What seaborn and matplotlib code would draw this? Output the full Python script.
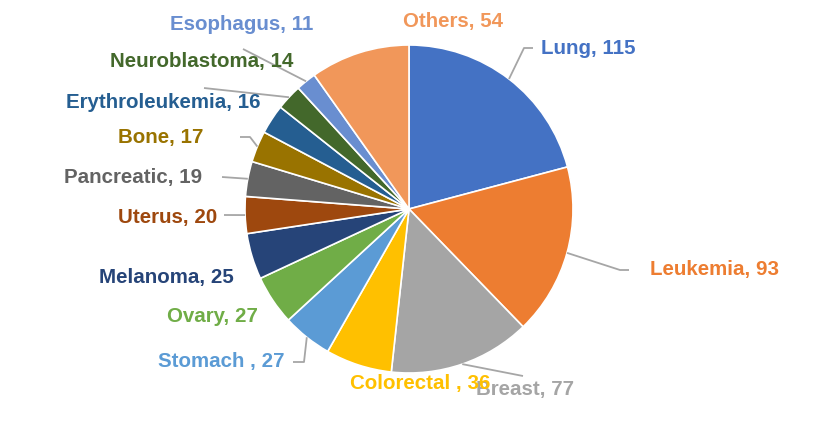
import matplotlib.pyplot as plt
import numpy as np
import seaborn as sns

W, H = 818, 421

# Slices, clockwise from 12 o'clock.
cancers = [
    "Lung", "Leukemia", "Breast", "Colorectal ", "Stomach ", "Ovary",
    "Melanoma", "Uterus", "Pancreatic", "Bone", "Erythroleukemia",
    "Neuroblastoma", "Esophagus", "Others",
]
counts = [115, 93, 77, 36, 27, 27, 25, 20, 19, 17, 16, 14, 11, 54]
colors = [
    "#4472C4", "#ED7D31", "#A5A5A5", "#FFC000", "#5B9BD5", "#70AD47",
    "#264478", "#9E480E", "#636363", "#997300", "#255E91", "#43682B",
    "#698ED0", "#F1975A",
]

# Label layout in pixel coords (left edge, vertical centre).
label_pos = {
    "Lung": (541, 48), "Leukemia": (650, 270), "Breast": (476, 390),
    "Colorectal ": (350, 383), "Stomach ": (158, 362), "Ovary": (167, 316),
    "Melanoma": (99, 277), "Uterus": (118, 217), "Pancreatic": (64, 178),
    "Bone": (118, 138), "Erythroleukemia": (66, 102),
    "Neuroblastoma": (110, 62), "Esophagus": (170, 25), "Others": (403, 22),
}
# Leader line points after the slice edge (pixel coords).
leaders = {
    "Lung": [(524, 48), (533, 48)],
    "Leukemia": [(620, 270), (629, 270)],
    "Breast": [(523, 376)],
    "Stomach ": [(304, 362), (293, 362)],
    "Uterus": [(224, 215)],
    "Pancreatic": [(222, 177)],
    "Bone": [(250, 137), (240, 137)],
    "Neuroblastoma": [(204, 88)],
    "Esophagus": [(243, 49)],
}


def px(p):
    return p[0], H - p[1]


def main() -> None:
    sns.set_theme(style="white")
    plt.rcParams["font.family"] = ["Liberation Sans", "DejaVu Sans"]

    fig = plt.figure(figsize=(W / 100, H / 100), dpi=100)
    ax = fig.add_axes([0, 0, 1, 1])

    cx, cy = px((409, 209))
    r = 164
    wedges, _ = ax.pie(
        counts, colors=colors, startangle=90, counterclock=False,
        center=(cx, cy), radius=r, frame=True,
        wedgeprops=dict(edgecolor="white", linewidth=1.2),
    )
    ax.set_xlim(0, W)
    ax.set_ylim(0, H)
    ax.set_aspect("equal")
    ax.axis("off")

    for name, n, col, w in zip(cancers, counts, colors, wedges):
        mid = np.deg2rad((w.theta1 + w.theta2) / 2)
        edge = (cx + r * np.cos(mid), cy + r * np.sin(mid))
        if name in leaders:
            pts = [edge] + [px(p) for p in leaders[name]]
            xs, ys = zip(*pts)
            ax.plot(xs, ys, color="#A6A6A6", lw=1.3, solid_capstyle="butt")
        x, y = px(label_pos[name])
        ax.text(x, y, f"{name}, {n}", color=col, fontsize=14.8,
                fontweight="bold", ha="left", va="center",
                zorder=6 if name == "Colorectal " else 5)

    fig.savefig("out.png", dpi=100)


if __name__ == "__main__":
    main()
